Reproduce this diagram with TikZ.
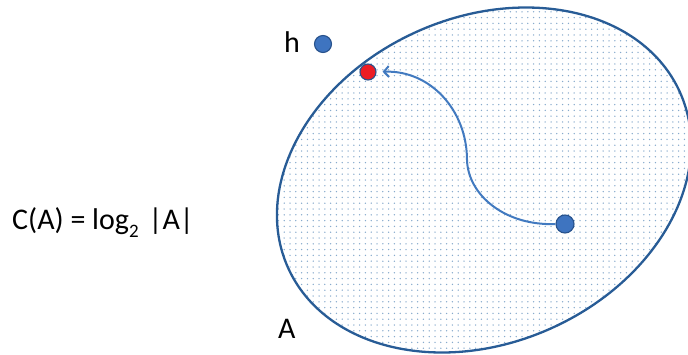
\documentclass[tikz,border=0pt]{standalone}
\usepackage{fontspec}
\setmainfont{Carlito}
\usetikzlibrary{patterns.meta,arrows.meta}
\definecolor{edgeblue}{RGB}{40,92,150}
\definecolor{dotblue}{RGB}{62,116,192}
\definecolor{dotedge}{RGB}{40,82,140}
\definecolor{arrowblue}{RGB}{66,122,192}
\definecolor{dotred}{RGB}{236,28,36}
\definecolor{patcol}{RGB}{135,170,205}
\tikzset{
  pt/.style={circle,draw=dotedge,line width=1.1pt,inner sep=0pt,minimum size=#1},
  lbl/.style={inner sep=0pt,anchor=base west,font=\fontsize{30}{36}\selectfont},
  setA/.style={rotate around={24:(484,180)}},
}
\begin{document}
\begin{tikzpicture}[x=1pt,y=-1pt]
\useasboundingbox (0,0) rectangle (688,354);
\clip (0,0) rectangle (688,354);
% set A
\fill[white,setA] (484,180) ellipse [x radius=214.7pt, y radius=162.8pt];
\fill[pattern={Dots[distance=5.8pt,radius=0.75pt]},pattern color=patcol,setA] (484,180) ellipse [x radius=214.7pt, y radius=162.8pt];
\draw[edgeblue,line width=2.3pt,setA] (484,180) ellipse [x radius=214.7pt, y radius=162.8pt];
% labels
\node[lbl] (f) at (12,229) {C(A) = log{\raisebox{-0.28em}{\fontsize{19}{19}\selectfont 2}}\,\,|A|};
\node[lbl] (la) at (278,338) {A};
\node[lbl] (lh) at (284,52) {h};
% points
\node[pt=17pt,fill=dotblue] (hdot) at (323,44) {};
\node[pt=16pt,fill=dotred] (rdot) at (368,72) {};
\node[pt=18pt,fill=dotblue] (bdot) at (565,224) {};
% arrow
\draw[arrowblue,line width=2pt,-{Straight Barb[length=5pt,width=11pt]},shorten >=6pt]
  (bdot.west) .. controls (505,226) and (468,195) .. (467,160)
  .. controls (467,110) and (430,70) .. (rdot.east);
\end{tikzpicture}
\end{document}
